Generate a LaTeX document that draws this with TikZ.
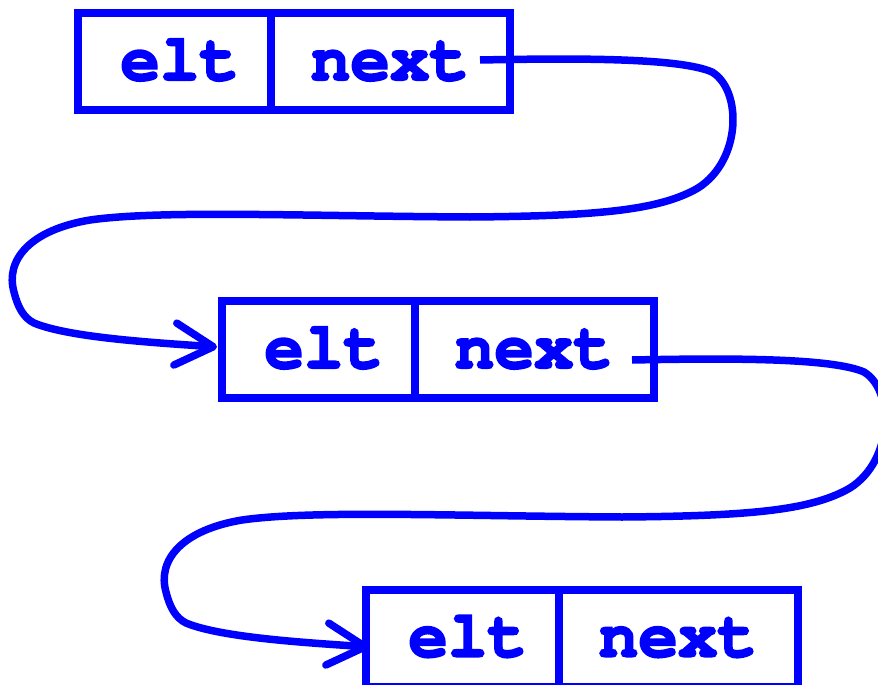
\documentclass[tikz,border=0pt]{standalone}
\usepackage[T1]{fontenc}
\usetikzlibrary{arrows.meta,calc}
\newcommand{\heavytext}[1]{\special{pdf:literal 2 Tr 2 w}#1\special{pdf:literal 0 Tr}}
\begin{document}
\begin{tikzpicture}[x=1pt,y=-1pt,
  cell/.style={draw=blue, line width=8pt, inner sep=0pt, outer sep=0pt, minimum height=97pt, anchor=north west},
  eltcell/.style={cell, minimum width=192.5pt},
  nextcell/.style={cell, minimum width=239pt},
  lbl/.style={text=blue, font=\fontencoding{T1}\fontfamily{pcr}\fontseries{b}\fontsize{66}{66}\selectfont, inner sep=0pt, anchor=base},
  link/.style={draw=blue, line width=7.5pt, -{Straight Barb[length=38pt,width=42pt,line cap=round,line join=round]}}
]
\useasboundingbox (0,0) rectangle (878,685);

% box 1
\node[eltcell] (elt1) at (78,13) {};
\node[nextcell] (next1) at (elt1.north east) {};
\node[lbl] (le1) at ($(elt1.center)+(5.5,18.5)$) {\heavytext{elt}};
\node[lbl] (ln1) at ($(next1.center)+(0,18.5)$) {\heavytext{next}};

% box 2
\node[eltcell] (elt2) at (222,301) {};
\node[nextcell] (next2) at (elt2.north east) {};
\node[lbl] (le2) at ($(elt2.center)+(5.5,18.5)$) {\heavytext{elt}};
\node[lbl] (ln2) at ($(next2.center)+(0,18.5)$) {\heavytext{next}};

% box 3
\node[eltcell] (elt3) at (366,589.5) {};
\node[nextcell] (next3) at (elt3.north east) {};
\node[lbl] (le3) at ($(elt3.center)+(5.5,18.5)$) {\heavytext{elt}};
\node[lbl] (ln3) at ($(next3.center)+(0,18.5)$) {\heavytext{next}};

% link 1 -> 2
\draw[link] ($(next1.east)+(-29.5,-1.5)$)
  .. controls (580,58) and (680,58) .. (712,72)
  .. controls (742,90) and (742,160) .. (698,188)
  .. controls (660,210) and (600,216) .. (470,217)
  .. controls (300,216) and (160,210) .. (90,220)
  .. controls (30,230) and (5,260) .. (14,292)
  .. controls (18,308) and (24,318) .. (34,323)
  .. controls (70,338) and (160,343) .. ($(elt2.west)+(-5,-2.5)$);

% link 2 -> 3
\draw[link] ($(next2.east)+(-21.5,10.5)$)
  .. controls (732,358) and (832,358) .. (864,372)
  .. controls (894,390) and (894,460) .. (850,488)
  .. controls (812,510) and (752,516) .. (622,517)
  .. controls (452,516) and (312,510) .. (242,520)
  .. controls (182,530) and (157,560) .. (166,592)
  .. controls (170,608) and (176,618) .. (186,623)
  .. controls (222,638) and (312,643) .. ($(elt3.west)+(3,9)$);
\end{tikzpicture}
\end{document}
